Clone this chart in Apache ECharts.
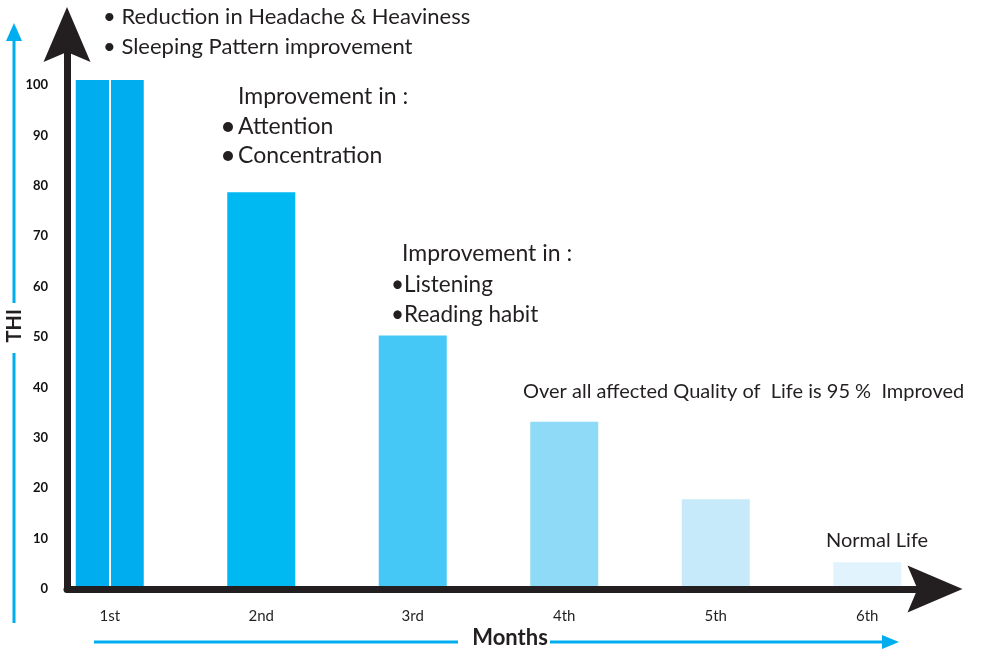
<!DOCTYPE html>
<html>
<head>
<meta charset="utf-8">
<script src="https://cdn.jsdelivr.net/npm/echarts@6/dist/echarts.min.js"></script>
<style>
html,body{margin:0;padding:0;background:#fff;}
#chart{width:986px;height:649px;}
</style>
</head>
<body>
<div id="chart"></div>
<script>
// ---- data ----
const months = ['1st', '2nd', '3rd', '4th', '5th', '6th'];
const thiValues = [101, 78.7, 50.3, 33.2, 17.8, 5.3];
const yTicks = [0, 10, 20, 30, 40, 50, 60, 70, 80, 90, 100];
const notes = [
  '• Reduction in Headache & Heaviness',
  '• Sleeping Pattern improvement',
  'Improvement in :',
  'Attention',
  'Concentration',
  'Improvement in :',
  '•Listening',
  '•Reading habit',
  'Over all affected Quality of  Life is 95 %  Improved',
  'Normal Life'
];

// ---- styles ----
const barColors = ['#00aeef', '#00b9f2', '#45c8f5', '#8fdaf7', '#c6eaf9', '#e1f3fc'];
const axisColor = '#231f20';
const blue = '#00aeef';
const FONT = 'Lato, "Open Sans", sans-serif';
const arrowPath = 'path://M0,0 L23.5,55 L0,45 L-23.5,55 Z';

const chart = echarts.init(document.getElementById('chart'));

const noteSize = [22, 22, 23, 23, 23, 23, 22.5, 22.5, 20, 20];
const notePos = [
  [103, 17], [103, 47], [238, 97], [238, 127], [238, 156],
  [402, 254], [391, 285], [391, 315], [523, 392], [826, 541]
];

const graphics = notes.map((t, i) => ({
  type: 'text',
  style: {
    text: t, x: notePos[i][0], y: notePos[i][1], font: noteSize[i] + 'px ' + FONT, fill: axisColor,
    verticalAlign: 'middle', textVerticalAlign: 'middle', align: 'left', textAlign: 'left'
  }
}));
graphics.push(
  { type: 'circle', shape: { cx: 228, cy: 127, r: 5 }, style: { fill: axisColor } },
  { type: 'circle', shape: { cx: 228, cy: 156, r: 5 }, style: { fill: axisColor } },
  // blue vertical arrow left
  { type: 'line', shape: { x1: 14, y1: 38, x2: 14, y2: 303 }, style: { stroke: blue, lineWidth: 3 } },
  { type: 'line', shape: { x1: 14, y1: 353, x2: 14, y2: 623 }, style: { stroke: blue, lineWidth: 3 } },
  { type: 'polygon', shape: { points: [[14, 23], [22, 41], [6, 41]] }, style: { fill: blue } },
  // blue horizontal arrow bottom
  { type: 'line', shape: { x1: 94, y1: 642, x2: 458, y2: 642 }, style: { stroke: blue, lineWidth: 3 } },
  { type: 'line', shape: { x1: 550, y1: 642, x2: 884, y2: 642 }, style: { stroke: blue, lineWidth: 3 } },
  { type: 'polygon', shape: { points: [[899, 642], [882, 635], [882, 649]] }, style: { fill: blue } }
);

const gridTop = 34.6, gridBottom = 60;

chart.setOption({
  animation: false,
  backgroundColor: '#fff',
  grid: [
    { left: 67, right: 51, top: gridTop, bottom: gridBottom, containLabel: false, outerBoundsMode: 'none' },
    { left: 34, right: 43, top: gridTop, bottom: gridBottom, containLabel: false, outerBoundsMode: 'none' }
  ],
  xAxis: [
    {
      gridIndex: 0, type: 'value', min: 0, max: 1, z: 5,
      axisLine: { show: true, onZero: false, symbol: ['none', arrowPath], symbolSize: [48, 55],
        lineStyle: { color: axisColor, width: 7 } },
      axisTick: { show: false }, axisLabel: { show: false }, splitLine: { show: false },
      name: 'Months', nameLocation: 'middle', nameGap: 38, nameMoveOverlap: false,
      nameTextStyle: { fontFamily: FONT, fontWeight: 'bold', fontSize: 22, color: axisColor, padding: [0, 0, 0, 18] }
    },
    {
      gridIndex: 1, type: 'category', data: months,
      axisLine: { show: false }, axisTick: { show: false },
      axisLabel: { margin: 20, fontFamily: FONT, fontSize: 15, color: axisColor }
    }
  ],
  yAxis: [
    {
      gridIndex: 0, type: 'value', min: 0, max: 110, interval: 10, z: 5,
      axisLine: { show: true, onZero: false, symbol: ['none', arrowPath], symbolSize: [47, 55],
        lineStyle: { color: axisColor, width: 7 } },
      axisTick: { show: false }, splitLine: { show: false },
      axisLabel: {
        margin: 19, fontFamily: FONT, fontWeight: 'bold', fontSize: 13, color: '#111',
        formatter: v => (yTicks.indexOf(v) >= 0 ? String(v) : '')
      },
      name: 'THI', nameLocation: 'middle', nameGap: 42, nameRotate: 90, nameMoveOverlap: false,
      nameTextStyle: { fontFamily: FONT, fontWeight: 'bold', fontSize: 20, color: axisColor, padding: [0, 28, 0, 0] }
    },
    {
      gridIndex: 1, type: 'value', min: 0, max: 110, show: false
    }
  ],
  series: [
    {
      type: 'bar', xAxisIndex: 1, yAxisIndex: 1, barWidth: 68,
      data: thiValues.map((v, i) => ({ value: v, itemStyle: { color: barColors[i] } })),
      markLine: {
        silent: true, symbol: ['none', 'none'], label: { show: false },
        lineStyle: { color: '#fff', width: 2, type: 'solid' },
        data: [[{ coord: [months[0], 0] }, { coord: [months[0], thiValues[0]] }]]
      }
    }
  ],
  graphic: graphics
});
</script>
</body>
</html>
